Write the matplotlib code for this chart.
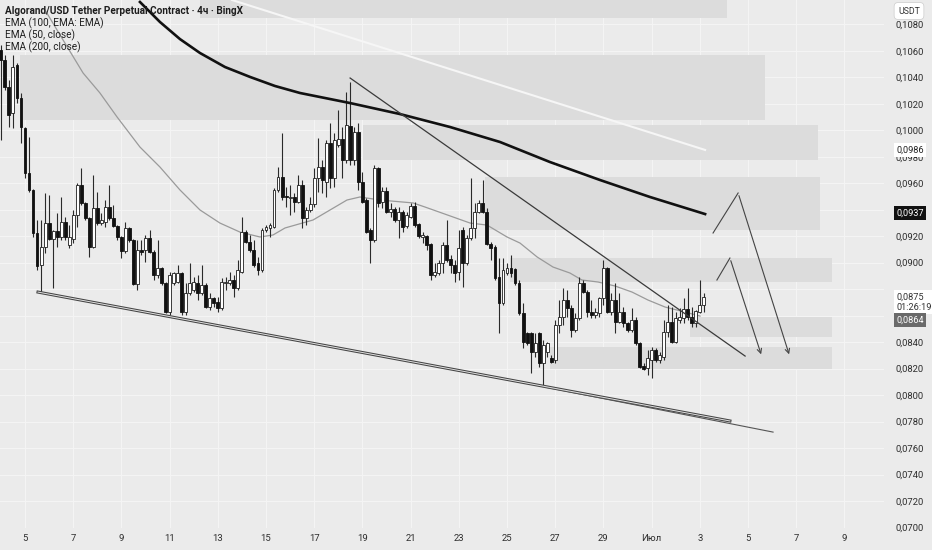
import matplotlib
matplotlib.use('Agg')
import matplotlib.pyplot as plt
from matplotlib.patches import Rectangle
import numpy as np

# 4h candles starting 4 Jun 00:00, prices in units of 0.0001 USDT
opens = [1060.6, 1053.0, 1032.6, 1013.0, 1049.2, 1024.3, 1001.7, 967.7, 954.9, 922.4,
         898.2, 911.8, 929.9, 917.9, 923.9, 919.4, 930.7, 913.3, 917.9, 936.0,
         958.6, 945.1, 933.7, 911.8, 941.3, 929.9, 930.7, 942.0, 933.7, 927.7,
         919.4, 908.8, 926.2, 917.1, 883.9, 909.6, 909.6, 918.6, 908.1, 890.7,
         896.0, 884.6, 862.7, 884.6, 885.4, 892.2, 862.7, 877.1, 879.4, 884.6,
         877.1, 883.1, 866.5, 873.3, 870.3, 865.8, 884.6, 884.6, 886.9, 880.9,
         892.9, 923.1, 915.6, 909.6, 899.7, 894.5, 924.7, 926.2, 926.9, 954.9,
         964.7, 950.3, 948.8, 949.6, 945.8, 958.6, 933.7, 939.8, 944.3, 963.9,
         972.2, 960.9, 990.3, 963.9, 988.8, 993.4, 977.5, 1003.2, 977.5, 998.6,
         960.9, 947.3, 924.7, 917.1, 971.5, 945.8, 954.1, 938.2, 940.5, 932.2,
         938.2, 927.7, 934.5, 942.8, 929.2, 919.4, 920.1, 914.1, 890.7, 892.2,
         899.7, 913.3, 902.8, 898.2, 892.9, 924.7, 899.7, 918.6, 926.2, 938.2,
         945.1, 938.2, 914.1, 911.8, 889.2, 869.5, 892.2, 896.0, 895.2, 884.6,
         862.0, 846.9, 846.9, 832.5, 846.9, 824.2, 832.5, 828.0, 826.5, 852.9,
         859.0, 871.8, 865.8, 849.2, 858.2, 884.6, 877.8, 862.7, 860.5, 862.0,
         873.3, 896.0, 862.7, 871.8, 855.2, 862.7, 854.4, 849.2, 856.7, 839.3,
         822.0, 820.5, 826.5, 834.1, 826.5, 828.8, 847.6, 855.2, 840.1, 856.7,
         858.2, 865.0, 859.0, 854.4, 862.7, 868.0]
highs = [1064.3, 1056.8, 1037.9, 1056.8, 1050.7, 1028.1, 1002.4, 994.9, 955.6, 932.2,
         932.2, 952.6, 951.1, 924.7, 937.5, 949.6, 934.5, 928.4, 939.8, 960.1,
         971.5, 945.8, 934.5, 966.2, 953.3, 937.5, 947.3, 958.6, 943.5, 928.4,
         920.1, 930.7, 926.9, 917.9, 917.1, 917.1, 920.9, 924.7, 909.6, 917.1,
         896.7, 885.4, 892.9, 892.9, 898.2, 892.9, 884.6, 899.7, 889.2, 890.7,
         898.2, 884.6, 877.1, 874.1, 874.1, 888.4, 889.2, 892.9, 890.7, 902.0,
         934.5, 924.7, 920.9, 917.1, 904.3, 926.2, 928.4, 929.9, 956.4, 972.2,
         997.9, 957.1, 958.6, 952.6, 966.2, 962.4, 942.0, 949.6, 971.5, 994.1,
         977.5, 992.6, 1005.4, 997.9, 1015.3, 1002.4, 1028.8, 1036.4, 1002.4, 1005.4,
         968.4, 948.8, 926.2, 973.7, 972.2, 957.1, 957.1, 945.1, 942.0, 942.0,
         939.8, 938.2, 945.1, 945.8, 929.9, 923.1, 920.9, 914.8, 899.7, 902.0,
         915.6, 932.2, 905.8, 902.0, 924.7, 926.9, 920.9, 963.9, 945.1, 947.3,
         962.4, 941.3, 915.6, 913.3, 903.5, 903.5, 899.7, 905.8, 896.0, 886.9,
         869.5, 847.6, 847.6, 846.9, 847.6, 841.6, 840.1, 830.3, 856.7, 871.8,
         880.9, 879.4, 868.0, 862.0, 889.2, 886.9, 879.4, 871.8, 865.8, 874.1,
         902.0, 896.7, 877.1, 884.6, 877.1, 866.5, 855.2, 865.8, 859.0, 840.1,
         824.2, 834.1, 836.3, 835.6, 832.5, 856.7, 868.0, 866.5, 862.7, 865.8,
         873.3, 880.9, 866.5, 864.3, 886.9, 877.1]
lows = [992.6, 1030.4, 1002.4, 1001.7, 1020.5, 990.3, 963.9, 953.3, 919.4, 894.5,
        877.8, 907.3, 917.1, 880.9, 911.8, 917.1, 917.1, 911.1, 914.8, 926.9,
        943.5, 932.2, 904.3, 911.1, 928.4, 928.4, 926.9, 932.2, 926.9, 917.1,
        903.5, 907.3, 915.6, 883.1, 879.4, 905.8, 900.5, 907.3, 886.9, 888.4,
        883.1, 862.0, 860.5, 883.1, 884.6, 860.5, 860.5, 875.6, 877.8, 871.8,
        875.6, 865.8, 864.3, 866.5, 862.7, 864.3, 879.4, 883.1, 874.1, 879.4,
        892.2, 914.8, 908.1, 896.7, 890.7, 892.9, 923.1, 919.4, 926.2, 953.3,
        947.3, 942.0, 936.0, 938.2, 945.1, 926.2, 928.4, 938.2, 942.0, 953.3,
        952.6, 949.6, 956.4, 957.1, 987.3, 963.9, 975.2, 973.7, 973.7, 954.9,
        945.1, 922.4, 899.7, 915.6, 942.0, 941.3, 937.5, 934.5, 930.7, 918.6,
        923.1, 926.2, 933.7, 926.9, 918.6, 914.8, 909.6, 886.9, 889.2, 890.7,
        892.2, 900.5, 892.2, 885.4, 886.9, 881.6, 898.2, 917.1, 918.6, 937.5,
        937.5, 913.3, 902.0, 886.9, 846.9, 868.0, 890.7, 889.2, 883.1, 860.5,
        835.6, 837.8, 816.7, 828.8, 821.2, 807.6, 828.8, 824.2, 824.2, 846.9,
        852.9, 859.0, 843.9, 847.6, 856.7, 877.1, 859.0, 858.2, 858.2, 859.0,
        868.0, 862.0, 860.5, 846.9, 854.4, 851.4, 847.6, 847.6, 837.8, 820.5,
        819.0, 815.2, 812.9, 825.0, 824.2, 826.5, 843.9, 839.3, 839.3, 854.4,
        854.4, 856.7, 851.4, 851.4, 862.0, 862.7]
closes = [1053.0, 1032.6, 1011.5, 1047.7, 1024.3, 1002.4, 967.7, 954.9, 922.4, 897.5,
          911.8, 929.9, 917.9, 923.9, 919.4, 930.7, 919.4, 919.4, 936.0, 958.6,
          945.1, 933.7, 911.8, 941.3, 929.9, 932.2, 942.0, 933.7, 927.7, 919.4,
          908.8, 926.2, 917.1, 883.9, 909.6, 908.1, 918.6, 908.1, 890.7, 896.0,
          884.6, 862.7, 890.7, 892.2, 892.2, 862.7, 877.1, 884.6, 885.4, 877.1,
          883.1, 866.5, 873.3, 869.5, 865.8, 885.4, 885.4, 886.9, 880.9, 894.5,
          923.1, 915.6, 909.6, 898.2, 894.5, 924.7, 926.9, 928.4, 954.9, 964.7,
          949.6, 949.6, 949.6, 945.8, 958.6, 933.7, 939.8, 944.3, 963.9, 972.2,
          962.4, 990.3, 963.9, 992.6, 993.4, 977.5, 1003.9, 977.5, 998.6, 960.9,
          945.8, 923.1, 917.1, 971.5, 945.1, 954.1, 938.2, 940.5, 932.2, 938.2,
          926.9, 936.0, 942.8, 928.4, 920.1, 920.9, 913.3, 890.7, 892.9, 899.7,
          913.3, 902.0, 898.2, 892.2, 911.1, 899.7, 918.6, 926.2, 938.2, 945.1,
          938.2, 914.1, 911.1, 888.4, 869.5, 894.5, 896.0, 892.2, 884.6, 862.0,
          840.1, 839.3, 832.5, 839.3, 824.2, 837.8, 839.3, 825.0, 852.9, 859.0,
          871.8, 865.8, 849.2, 858.2, 884.6, 877.8, 862.7, 860.5, 862.7, 873.3,
          896.0, 862.7, 871.8, 855.2, 862.7, 854.4, 849.2, 856.7, 839.3, 821.2,
          819.7, 828.0, 834.1, 826.5, 830.3, 847.6, 855.2, 840.1, 858.2, 859.0,
          865.0, 859.0, 854.4, 863.5, 868.0, 874.1]

# moving averages (day of June, price in 0.0001)
ema200_day = [9.77, 10.60, 11.43, 12.26, 13.30, 14.34, 15.37, 16.41, 18.49, 20.56,
              22.64, 24.71, 26.78, 28.86, 30.93, 33.22]
ema200_val = [1096.8, 1081.7, 1068.8, 1058.3, 1047.7, 1040.2, 1033.4, 1028.1, 1020.5, 1012.2,
              1002.4, 991.1, 976.0, 962.4, 949.6, 936.7]
ema50_day = [5.83, 6.58, 7.41, 8.11, 8.82, 9.77, 10.60, 11.43, 12.26, 13.09, 13.92, 14.75,
             15.29, 15.79, 16.95, 18.36, 18.90, 19.73, 21.10, 21.60, 22.76, 23.47, 24.17,
             25.00, 25.54, 26.25, 26.91, 27.61, 28.11, 28.78, 29.48, 30.19, 30.85, 31.56,
             32.39, 33.01]
ema50_val = [1090.8, 1068.1, 1043.2, 1028.1, 1010.0, 987.3, 972.2, 954.9, 939.8, 929.9, 923.1,
             919.4, 920.9, 926.2, 932.2, 947.3, 949.6, 947.3, 945.1, 942.0, 934.5, 929.9,
             928.4, 919.4, 914.8, 904.3, 896.7, 892.2, 886.9, 885.4, 882.4, 877.8, 871.8,
             866.5, 862.7, 859.7]

# drawings: (day, price) end points
ema100_line = ([13.59, 33.22], [1098.3, 985.1])
down_trend = ([18.49, 34.88], [1039.4, 829.5])
channel_low = ([5.54, 34.25], [877.8, 780.5])
channel_ext = ([26.58, 36.04], [806.1, 772.1])
path_a = ([33.55, 34.59, 36.74], [922.4, 952.6, 828.8])
path_b = ([33.71, 34.25, 35.58], [886.9, 903.5, 828.8])

# zones: start day, end day, top, bottom
zone_start = [12.26, 4.79, 19.03, 24.09, 25.12, 32.59, 26.78]
zone_end = [34.13, 35.71, 37.91, 37.99, 38.49, 38.49, 38.49]
zone_top = [1110.0, 1056.8, 1003.9, 964.7, 903.5, 859.0, 836.3]
zone_bot = [1084.7, 1007.7, 977.5, 924.7, 885.4, 843.9, 819.7]

tick_days = [5, 7, 9, 11, 13, 15, 17, 19, 21, 23, 25, 27, 29, 31, 33, 35, 37, 39]
tick_names = ['5', '7', '9', '11', '13', '15', '17', '19', '21', '23', '25', '27', '29',
              'Июл', '3', '5', '7', '9']
# scale labels covered by the price tags
hidden_ticks = ['0,0940', '0,0880', '0,0860']

bg = '#ebebeb'
plt.rcParams['font.family'] = ['Roboto', 'DejaVu Sans']

fig = plt.figure(figsize=(9.32, 5.5), dpi=100, facecolor=bg)
ax = fig.add_axes([0, 22 / 550, 884 / 932, 528 / 550])
ax.set_facecolor(bg)
sc = 1e4

for i in range(len(zone_start)):
    ax.add_patch(Rectangle((zone_start[i], zone_bot[i] / sc), zone_end[i] - zone_start[i],
                           (zone_top[i] - zone_bot[i]) / sc, facecolor='#dcdcdc',
                           edgecolor='none', zorder=1))

o = np.array(opens) / sc
h = np.array(highs) / sc
l = np.array(lows) / sc
c = np.array(closes) / sc
t = 4 + np.arange(len(o)) / 6
up = c >= o

ax.plot(np.array(ema50_day), np.array(ema50_val) / sc, color='#9a9a9a', lw=0.9, zorder=2)
ax.plot(ema100_line[0], np.array(ema100_line[1]) / sc, color='#f6f6f6', lw=1.5, zorder=2)

ax.vlines(t, l, h, color='#2a2a2a', lw=0.8, zorder=3)
bot = np.minimum(o, c)
hgt = np.maximum(np.abs(c - o), 0.00002)
ax.bar(t[up], hgt[up], bottom=bot[up], width=0.12, color='white', edgecolor='#1e1e1e',
       linewidth=0.6, zorder=4)
ax.bar(t[~up], hgt[~up], bottom=bot[~up], width=0.12, color='#111111', edgecolor='#111111',
       linewidth=0.6, zorder=4)

ax.plot(np.array(ema200_day), np.array(ema200_val) / sc, color='#111111', lw=1.9, zorder=5,
        solid_joinstyle='round')
ax.plot(down_trend[0], np.array(down_trend[1]) / sc, color='#3a3a3a', lw=0.9, zorder=5)
ax.plot(channel_low[0], np.array(channel_low[1]) / sc, color='#444444', lw=2.2, zorder=5)
ax.plot(channel_low[0], np.array(channel_low[1]) / sc, color='#e2e2e2', lw=0.7, zorder=6)
ax.plot(channel_ext[0], np.array(channel_ext[1]) / sc, color='#555555', lw=0.8, zorder=5)

for px, py in (path_a, path_b):
    py = np.array(py) / sc
    ax.plot(px[:2], py[:2], color='#444444', lw=0.8, zorder=5)
    ax.annotate('', xy=(px[2], py[2]), xytext=(px[1], py[1]),
                arrowprops=dict(arrowstyle='->', color='#444444', lw=0.8,
                                mutation_scale=8), zorder=5)

ax.set_xlim(3.963, 40.643)
ax.set_ylim(0.06997, 0.10983)

ax.set_xticks(tick_days)
ax.set_xticklabels(tick_names)
yt = np.arange(0.0700, 0.10801, 0.0020)
ylabels = [f'{v:.4f}'.replace('.', ',') for v in yt]
ax.set_yticks(yt)
ax.set_yticklabels(['' if s in hidden_ticks else s for s in ylabels])
ax.yaxis.tick_right()
ax.tick_params(axis='both', length=0, labelsize=6.8, colors='#2e2e2e')
ax.tick_params(axis='y', pad=8.5)
ax.tick_params(axis='x', pad=4)
ax.grid(True, color='#f4f4f4', lw=0.8, zorder=0)
ax.set_axisbelow(True)
for s in ax.spines.values():
    s.set_visible(False)

# price labels on the scale
def price_tag(txt, price, fc, tc, ec='none'):
    ax.annotate(txt, xy=(1, price), xycoords=('axes fraction', 'data'), xytext=(9, 0),
                textcoords='offset points', va='center', ha='left', fontsize=6.6, color=tc,
                linespacing=1.15, annotation_clip=False, zorder=10,
                bbox=dict(boxstyle='square,pad=0.25', fc=fc, ec=ec))

price_tag('0,0986', 0.09851, 'white', '#222222')
price_tag('0,0937', 0.09375, '#111111', 'white')
price_tag('0,0875\n01:26:19', 0.08703, 'white', '#333333')
price_tag('0,0864', 0.08567, '#6a6a6a', 'white')

fig.text(909 / 932, 1 - 11 / 550, 'USDT', ha='center', va='center', fontsize=6.3,
         color='#333333', bbox=dict(boxstyle='round,pad=0.45', fc='white', ec='#cccccc', lw=0.5))

legend = ['Algorand/USD Tether Perpetual Contract · 4ч · BingX', 'EMA (100, EMA: EMA)',
          'EMA (50, close)', 'EMA (200, close)']
for k, line in enumerate(legend):
    fig.text(5 / 932, 1 - (11 + 12 * k) / 550, line, ha='left', va='center',
             fontsize=7.2, color='#1e1e1e', fontweight='bold' if k == 0 else 'normal')

fig.savefig('out.png', dpi=100, facecolor=bg)
